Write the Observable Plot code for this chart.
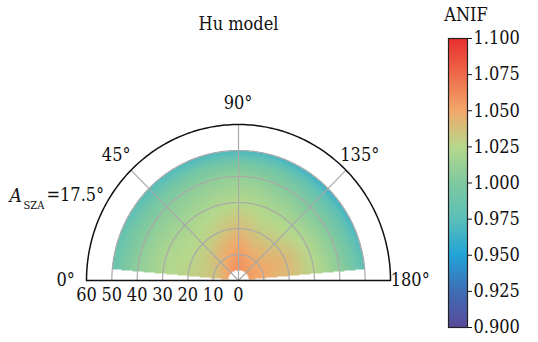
<!DOCTYPE html>
<html>
<head>
<meta charset="utf-8">
<script src="https://cdn.jsdelivr.net/npm/d3@7"></script>
<script src="https://cdn.jsdelivr.net/npm/@observablehq/plot@0.6"></script>
<style>
  body { margin: 0; background: #fff; }
  #wrap { position: relative; width: 538px; height: 342px; }
  #wrap svg { position: absolute; left: 0; top: 0; background: transparent; }
</style>
</head>
<body>
<div id="wrap"></div>
<script>
// ---- data ----
const azimuths = [5, 25, 45, 65, 90, 115, 135, 155, 175];      // degrees
const radii = [4, 10, 20, 30, 40, 45, 50];                        // zenith angle
const anif = [
  [1.050, 1.052, 1.055, 1.058, 1.060, 1.058, 1.056, 1.055, 1.052], // r=4
  [1.035, 1.036, 1.042, 1.050, 1.056, 1.050, 1.048, 1.050, 1.048], // r=10
  [1.028, 1.026, 1.027, 1.032, 1.040, 1.032, 1.034, 1.042, 1.040], // r=20
  [1.022, 1.020, 1.018, 1.020, 1.025, 1.020, 1.020, 1.024, 1.026], // r=30
  [1.008, 1.006, 1.004, 1.006, 1.010, 1.004, 1.000, 1.003, 1.008], // r=40
  [0.998, 0.995, 0.992, 0.993, 0.995, 0.990, 0.985, 0.988, 0.995], // r=45
  [0.985, 0.980, 0.972, 0.968, 0.968, 0.964, 0.962, 0.966, 0.978]  // r=50
];
const radialTicks = [60, 50, 40, 30, 20, 10, 0];
const gridRadii = [10, 20, 30, 40, 50];
const spokeAngles = [45, 90, 135];
const angleLabels = [0, 45, 90, 135, 180];
const colorTicks = [0.9, 0.925, 0.95, 0.975, 1.0, 1.025, 1.05, 1.075, 1.1];
const colorStops = ["#5a4a9a", "#3f6db5", "#22a3d8", "#5bbfb8", "#7ec9a0", "#b6d88c", "#f2a86a", "#ee6a4b", "#e82f2e"];
const title = "Hu model";
const szaValue = 17.5;

// ---- helpers ----
const rad = (a) => a * Math.PI / 180;
const px = (r, a) => -r * Math.cos(rad(a));
const py = (r, a) => r * Math.sin(rad(a));

function bracket(arr, v) {
  let i = 0;
  while (i < arr.length - 2 && v > arr[i + 1]) i++;
  const t = (v - arr[i]) / (arr[i + 1] - arr[i]);
  return [i, Math.max(0, Math.min(1, t))];
}
function field(x, y) {
  const r = Math.hypot(x, y);
  let a = Math.atan2(y, -x) * 180 / Math.PI;
  if (r < radii[0] || r > radii[radii.length - 1]) return NaN;
  if (a < azimuths[0] || a > azimuths[azimuths.length - 1]) return NaN;
  const [i, tr] = bracket(radii, r);
  const [j, ta] = bracket(azimuths, a);
  const v00 = anif[i][j], v01 = anif[i][j + 1], v10 = anif[i + 1][j], v11 = anif[i + 1][j + 1];
  return (v00 * (1 - ta) + v01 * ta) * (1 - tr) + (v10 * (1 - ta) + v11 * ta) * tr;
}

const arcPts = [];
for (const r of gridRadii) for (let a = 0; a <= 180; a += 1) arcPts.push({r, a});
const outerPts = d3.range(0, 181, 1).map(a => ({r: 60, a}));

const colorScale = {
  type: "linear",
  domain: [colorTicks[0], colorTicks[colorTicks.length - 1]],
  interpolate: d3.piecewise(d3.interpolateRgb, colorStops)
};
const font = "DejaVu Serif Condensed, DejaVu Serif, serif";
const fs = 18;

// ---- main polar plot ----
const main = Plot.plot({
  width: 538, height: 342,
  marginLeft: 86, marginRight: 148, marginTop: 124, marginBottom: 62,
  x: {domain: [-60, 60], axis: null},
  y: {domain: [0, 60], axis: null},
  color: colorScale,
  style: {fontFamily: font, background: "transparent"},
  marks: [
    Plot.raster({x1: -60, x2: 60, y1: 0, y2: 60, pixelSize: 1, fill: field, imageRendering: "auto"}),
    Plot.line(arcPts, {x: d => px(d.r, d.a), y: d => py(d.r, d.a), z: "r", stroke: "#a9a9a9", strokeWidth: 1.2}),
    Plot.link(spokeAngles, {x1: 0, y1: 0, x2: a => px(60, a), y2: a => py(60, a), stroke: "#a9a9a9", strokeWidth: 1.2}),
    Plot.line(outerPts, {x: d => px(d.r, d.a), y: d => py(d.r, d.a), stroke: "#111", strokeWidth: 1.5}),
    Plot.ruleY([0], {x1: -60, x2: 60, stroke: "#111", strokeWidth: 1.5}),
    Plot.text(radialTicks, {x: d => -d, y: 0, dy: 15, text: d => String(d), fontSize: fs, fill: "#111"}),
    Plot.text(angleLabels, {x: a => px(68, a), y: a => py(68, a), dy: a => (a === 0 || a === 180) ? 2 : 0, dx: a => a === 0 ? 2 : (a === 180 ? 3 : 0), text: a => a + "°", fontSize: fs, fill: "#111"}),
    Plot.text([title], {frameAnchor: "top", lineAnchor: "middle", dy: -100, text: d => d, fontSize: fs, fill: "#111"}),
    Plot.text(["A"], {frameAnchor: "top-left", lineAnchor: "middle", dx: -77, dy: 71, text: d => d, fontSize: 19, fontStyle: "italic", textAnchor: "start", fill: "#111"}),
    Plot.text(["SZA"], {frameAnchor: "top-left", lineAnchor: "middle", dx: -63, dy: 81, text: d => d, fontSize: 11, textAnchor: "start", fill: "#111"}),
    Plot.text([szaValue], {frameAnchor: "top-left", lineAnchor: "middle", dx: -40, dy: 71, text: d => "=" + d + "°", fontSize: fs, textAnchor: "start", fill: "#111"})
  ]
});

// ---- colorbar ----
const bar = Plot.plot({
  width: 538, height: 342,
  marginLeft: 448, marginRight: 71, marginTop: 38, marginBottom: 15,
  x: {domain: [0, 1], axis: null},
  y: {domain: [colorTicks[0], colorTicks[colorTicks.length - 1]], axis: null},
  color: colorScale,
  style: {fontFamily: font, background: "transparent"},
  marks: [
    Plot.raster({x1: 0, x2: 1, y1: colorTicks[0], y2: colorTicks[colorTicks.length - 1], pixelSize: 1, fill: (x, y) => y}),
    Plot.frame({stroke: "#222", strokeWidth: 1.2}),
    Plot.axisY({anchor: "right", ticks: colorTicks, tickFormat: d3.format(".3f"), tickSize: 4, tickPadding: 2, fontSize: fs, label: null, color: "#111"}),
    Plot.text(["ANIF"], {frameAnchor: "top", lineAnchor: "middle", dx: 8, dy: -23, text: d => d, fontSize: fs, fill: "#111"})
  ]
});

document.getElementById("wrap").append(main, bar);
</script>
</body>
</html>
